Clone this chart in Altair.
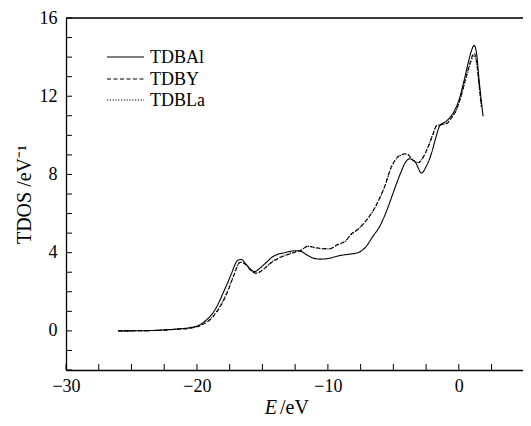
import altair as alt
import pandas as pd

# ---------------- data ----------------
E_al = [-26, -24, -22.5, -21.5, -20.5, -19.8, -19.3, -18.8, -18.4, -18.0, -17.6, -17.35,
        -16.9, -16.6, -16.3, -15.9, -15.6, -15.2, -14.7, -14.2, -13.3, -12.4, -12.0, -11.6,
        -11.1, -10.6, -10.0, -9.1, -8.4, -7.7, -7.1, -6.6, -6.0, -5.5, -5.1, -4.75, -4.4,
        -4.1, -3.74, -3.3, -2.85, -2.5, -2.1, -1.75, -1.45, -1.0, -0.69, -0.3, 0.08, 0.4,
        0.7, 0.95, 1.17, 1.35, 1.55, 1.85]
V_al = [0, 0.01, 0.05, 0.1, 0.17, 0.3, 0.55, 0.9, 1.35, 1.94, 2.55, 2.96,
        3.6, 3.65, 3.45, 3.15, 3.03, 3.2, 3.5, 3.8, 4.0, 4.1, 4.05, 3.88,
        3.72, 3.67, 3.7, 3.85, 3.92, 4.0, 4.3, 4.8, 5.4, 6.16, 6.9, 7.55, 8.15,
        8.6, 8.8, 8.6, 8.07, 8.4, 9.06, 9.9, 10.5, 10.7, 10.9, 11.3, 11.96, 12.8,
        13.66, 14.3, 14.6, 14.2, 12.8, 10.97]

E_y = [-26, -24, -22.5, -21.5, -20.5, -19.8, -19.3, -18.8, -18.4, -18.0, -17.6, -17.2,
       -16.7, -16.3, -15.9, -15.45, -15.0, -14.4, -13.8, -13.15, -12.6, -12.1, -11.5,
       -11.1, -10.6, -10.1, -9.85, -9.3, -8.6, -8.3, -7.7, -7.05, -6.5, -6.0, -5.6,
       -5.27, -4.9, -4.5, -4.0, -3.5, -3.1, -2.7, -2.35, -2.0, -1.7, -1.3, -0.94, -0.55,
       -0.18, 0.2, 0.59, 0.9, 1.15, 1.35, 1.55, 1.73]
V_y = [0, 0.01, 0.04, 0.08, 0.14, 0.25, 0.42, 0.7, 1.05, 1.5, 2.1, 2.8,
       3.5, 3.4, 3.1, 2.94, 3.1, 3.45, 3.7, 3.88, 4.0, 4.1, 4.34,
       4.28, 4.22, 4.2, 4.2, 4.4, 4.64, 4.9, 5.2, 5.67, 6.2, 6.86, 7.5,
       8.2, 8.7, 8.98, 9.06, 8.72, 8.6, 8.9, 9.4, 10.0, 10.5, 10.55, 10.6, 10.9,
       11.3, 12.1, 13.1, 13.8, 14.2, 13.8, 12.6, 11.45]

E_la = [-26, -24, -22.5, -21.5, -20.5, -19.8, -19.3, -18.8, -18.4, -18.0, -17.6, -17.2,
        -16.7, -16.3, -15.9, -15.45, -15.0, -14.4, -13.8, -13.15, -12.6, -12.1, -11.5,
        -11.1, -10.6, -10.1, -9.85, -9.3, -8.6, -8.3, -7.7, -7.05, -6.5, -6.0, -5.6,
        -5.27, -4.9, -4.5, -4.0, -3.5, -3.1, -2.7, -2.35, -2.0, -1.7, -1.3, -0.94, -0.55,
        -0.18, 0.2, 0.59, 0.9, 1.15, 1.35, 1.55, 1.73]
V_la = [0, 0.01, 0.045, 0.09, 0.15, 0.27, 0.45, 0.74, 1.1, 1.56, 2.15, 2.85,
        3.52, 3.42, 3.12, 2.96, 3.12, 3.46, 3.72, 3.9, 4.02, 4.12, 4.32,
        4.27, 4.21, 4.19, 4.2, 4.38, 4.62, 4.88, 5.18, 5.65, 6.18, 6.84, 7.48,
        8.18, 8.68, 8.96, 9.04, 8.74, 8.62, 8.92, 9.42, 10.02, 10.48, 10.56, 10.62, 10.92,
        11.32, 12.05, 13.0, 13.7, 14.1, 13.7, 12.5, 11.4]

series = ["TDBAl", "TDBY", "TDBLa"]
dashes = [[1, 0], [4, 2.5], [1.2, 1.6]]

x_labels = [-30, -20, -10, 0]
y_labels = [0, 4, 8, 12, 16]
x_ticks = [-30 + 2.5 * i for i in range(14)]
y_ticks = list(range(-2, 17))

# ---------------- build table ----------------
rows = []
for name, es, vs in [("TDBAl", E_al, V_al), ("TDBY", E_y, V_y), ("TDBLa", E_la, V_la)]:
    for e, v in zip(es, vs):
        rows.append({"E": e, "TDOS": v, "series": name})
df = pd.DataFrame(rows)

W, H = 457, 352
FONT = "Liberation Serif"

xscale = alt.Scale(domain=[-30, 4.9], nice=False, zero=False)
yscale = alt.Scale(domain=[-2, 16], nice=False, zero=False)

lines = alt.Chart(df).mark_line(color="black", strokeWidth=1.1, interpolate="monotone", clip=True).encode(
    x=alt.X("E:Q", scale=xscale,
            axis=alt.Axis(values=x_labels, tickSize=0, labelPadding=7, title=None, labelFlush=False,
                          grid=False, domainColor="black", domainWidth=1.3,
                          labelFont=FONT, labelFontSize=18, labelColor="black")),
    y=alt.Y("TDOS:Q", scale=yscale,
            axis=alt.Axis(values=y_labels, tickSize=0, labelPadding=9, labelFlush=False,
                          title="TDOS /eV⁻¹", titleFont=FONT, titleFontSize=20,
                          titleFontWeight="normal", titleColor="black", titlePadding=5,
                          grid=False, domainColor="black", domainWidth=1.3,
                          labelFont=FONT, labelFontSize=18, labelColor="black")),
    strokeDash=alt.StrokeDash("series:N", scale=alt.Scale(domain=series, range=dashes), legend=None),
    detail="series:N",
)

xt = alt.Chart(pd.DataFrame({"v": x_ticks})).mark_rule(color="black", strokeWidth=1).encode(
    x=alt.X("v:Q", scale=xscale), y=alt.value(H), y2=alt.value(H - 6))
yt = alt.Chart(pd.DataFrame({"v": y_ticks})).mark_rule(color="black", strokeWidth=1).encode(
    y=alt.Y("v:Q", scale=yscale), x=alt.value(0), x2=alt.value(6))

# top frame line
top = alt.Chart(pd.DataFrame({"a": [0]})).mark_rule(color="black", strokeWidth=1.3).encode(
    x=alt.value(0), x2=alt.value(W), y=alt.value(0))

# manual legend
leg_layers = []
row_y = [39, 61, 82]
for name, dash, ry in zip(series, dashes, row_y):
    ldf = pd.DataFrame({"series": [name]})
    leg_layers.append(alt.Chart(ldf).mark_rule(color="black", strokeWidth=1.1, strokeDash=dash).encode(
        x=alt.value(41), x2=alt.value(78), y=alt.value(ry)))
    leg_layers.append(alt.Chart(ldf).mark_text(font=FONT, fontSize=18, align="left", baseline="middle",
                                              color="black").encode(
        x=alt.value(84), y=alt.value(ry + 1), text="series:N"))

# x title: italic E + "/eV"
xtitle_e = alt.Chart(pd.DataFrame({"t": ["E"]})).mark_text(
    font=FONT, fontSize=20, fontStyle="italic", align="right", baseline="alphabetic", color="black"
).encode(x=alt.value(211), y=alt.value(H + 44), text="t:N")
xtitle_r = alt.Chart(pd.DataFrame({"t": ["/eV"]})).mark_text(
    font=FONT, fontSize=20, align="left", baseline="alphabetic", color="black"
).encode(x=alt.value(214), y=alt.value(H + 44), text="t:N")

chart = alt.layer(lines, xt, yt, top, *leg_layers, xtitle_e, xtitle_r).properties(
    width=W, height=H,
    autosize=alt.AutoSizeParams(type="none"),
    padding={"left": 58, "top": 10, "right": 0, "bottom": 48},
).configure_view(stroke=None).configure(background="white")

chart.save("out.html", embed_options={"renderer": "svg", "actions": False})
